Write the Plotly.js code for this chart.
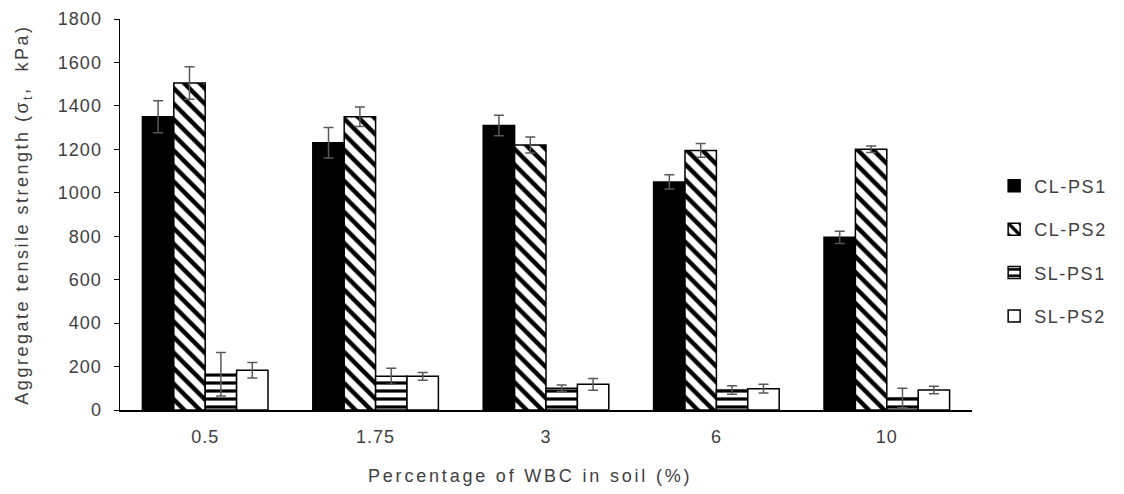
<!DOCTYPE html>
<html>
<head>
<meta charset="utf-8">
<script src="https://cdn.plot.ly/plotly-3.0.1.min.js"></script>
<style>
html,body{margin:0;padding:0;background:#fff;}
#chart{width:1124px;height:494px;}
.ytitle{letter-spacing:2.5px;}
.annotation-text{letter-spacing:2.8px;}
.legendtext{letter-spacing:1.6px;}
.ytick text, .xtick text{letter-spacing:1px;}
</style>
</head>
<body>
<div id="chart"></div>
<script>
const categories = ["0.5", "1.75", "3", "6", "10"];
const seriesNames = ["CL-PS1", "CL-PS2", "SL-PS1", "SL-PS2"];
const clPs1 = [1350, 1230, 1310, 1050, 795];
const clPs1Err = [74, 70, 47, 33, 28];
const clPs2 = [1505, 1350, 1220, 1195, 1200];
const clPs2Err = [75, 45, 37, 32, 15];
const slPs1 = [165, 155, 100, 92, 55];
const slPs1Err = [100, 37, 15, 20, 45];
const slPs2 = [183, 155, 118, 98, 92];
const slPs2Err = [36, 18, 27, 20, 17];
const yTicks = [0, 200, 400, 600, 800, 1000, 1200, 1400, 1600, 1800];
const xTitle = "Percentage of WBC in soil (%)";
const yTitle = "Aggregate tensile strength (σ<sub>t</sub>,  kPa)";

const values = [clPs1, clPs2, slPs1, slPs2];
const errs = [clPs1Err, clPs2Err, slPs1Err, slPs2Err];
const patterns = [
  {shape: "", fgcolor: "#000", bgcolor: "#000"},
  {shape: "\\", fgcolor: "#000", bgcolor: "#fff", size: 11, solidity: 0.4},
  {shape: "-", fgcolor: "#000", bgcolor: "#fff", size: 8, solidity: 0.4},
  {shape: "", fgcolor: "#fff", bgcolor: "#fff"}
];
const fills = ["#000", "#fff", "#fff", "#fff"];

const traces = seriesNames.map((name, i) => ({
  type: "bar",
  name: name,
  x: categories,
  y: values[i],
  legendgroup: "g" + i,
  marker: {
    color: fills[i],
    line: {color: "#000", width: 1.5},
    pattern: patterns[i]
  },
  error_y: {type: "data", array: errs[i], visible: true, color: "#595959", thickness: 1.5, width: 5}
}));

const layout = {
  width: 1124, height: 494,
  margin: {l: 120, r: 148, t: 19, b: 84},
  paper_bgcolor: "#fff", plot_bgcolor: "#fff",
  barmode: "group", bargap: 0.263, bargroupgap: 0,
  font: {family: "Liberation Sans, Arial, sans-serif", size: 18, color: "#404040"},
  showlegend: true,
  legend: {x: 1.026, xanchor: "left", y: 0.62, yanchor: "top", traceorder: "grouped", tracegroupgap: 17,
           font: {size: 18, color: "#404040"}, bgcolor: "rgba(0,0,0,0)"},
  xaxis: {
    type: "category", showline: true, linecolor: "#000", linewidth: 1.5, ticks: "", showgrid: false,
    zeroline: false, ticklabelstandoff: 10
  },
  yaxis: {
    range: [0, 1800], tickvals: yTicks, ticktext: yTicks.map(String), showline: true, linecolor: "#000", linewidth: 1.5,
    ticks: "outside", ticklen: 5, tickcolor: "#000", showgrid: false, zeroline: false, ticklabelstandoff: 8,
    title: {text: yTitle, font: {size: 18, color: "#404040"}, standoff: 24}
  },
  annotations: [{
    text: xTitle, xref: "paper", yref: "paper", x: 0.481, y: -0.169, xanchor: "center", yanchor: "middle",
    showarrow: false, font: {size: 18, color: "#404040"}
  }]
};

Plotly.newPlot("chart", traces, layout, {displayModeBar: false, staticPlot: true});
</script>
</body>
</html>
